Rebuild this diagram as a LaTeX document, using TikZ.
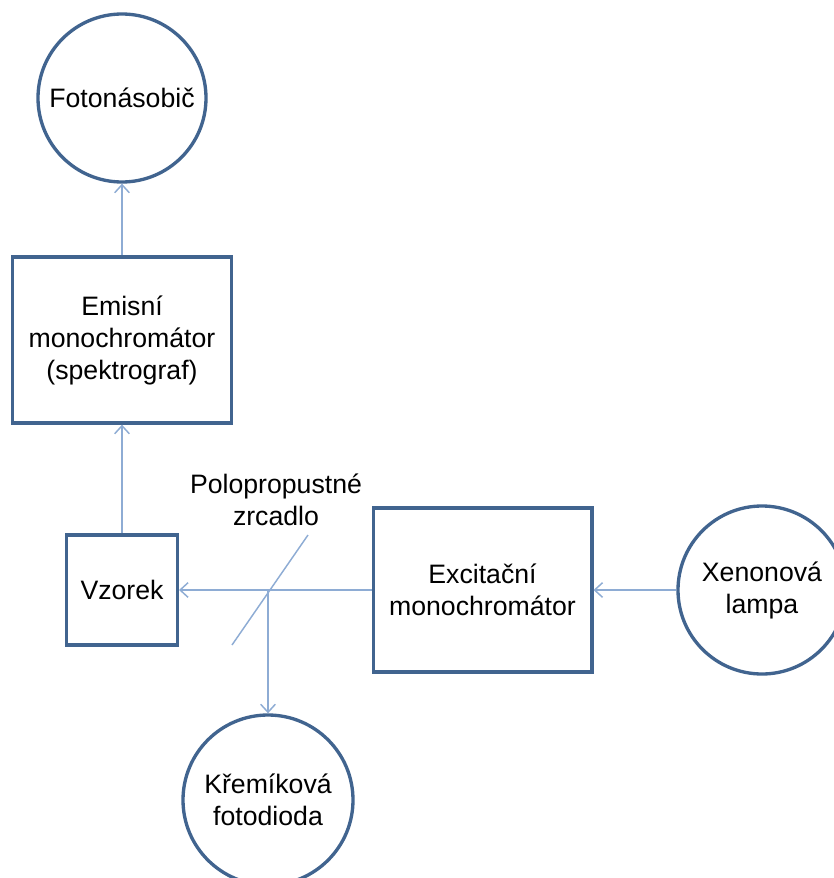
\documentclass[tikz,border=0pt]{standalone}
\usepackage{fontspec}
\setmainfont{Liberation Sans}
\usetikzlibrary{arrows.meta}
\definecolor{frame}{HTML}{41648F}
\definecolor{beam}{HTML}{8EACD4}
\tikzset{
  box/.style={draw=frame, line width=2.5pt, align=center, inner sep=0pt},
  lens/.style={circle, draw=frame, line width=2.5pt, align=center, inner sep=0pt, minimum size=126pt},
  ray/.style={draw=beam, line width=1.1pt, -{Straight Barb[length=6pt,width=11pt]}},
}

\begin{document}
\begin{tikzpicture}[x=0.75pt, y=-0.75pt, font=\fontsize{20}{24}\selectfont]
  \useasboundingbox (0,0) rectangle (834,878);
  \clip (0,0) rectangle (834,878);

  \node[lens] (fnas) at (122,98) {Fotonásobič};
  \node[box, minimum width=164pt, minimum height=124.5pt] (emi) at (122,340) {Emisní\\monochromátor\\(spektrograf)};
  \node[box, minimum width=83pt, minimum height=82.5pt] (vz) at (122,590) {Vzorek};
  \node[box, minimum width=164pt, minimum height=123pt] (exc) at (482.5,590) {Excitační\\monochromátor};
  \node[lens] (xen) at (762,590) {Xenonová\\lampa};
  \node[lens, minimum size=127.5pt] (krem) at (268,800) {Křemíková\\fotodioda};
  \node[align=center] (zrc) at (276,500) {Polopropustné\\zrcadlo};

  \coordinate (m1) at (232,645);
  \coordinate (m2) at (308,535);
  \coordinate (split) at (268,590);
  \draw[draw=beam, line width=1.1pt] (m1) -- (m2);

  \draw[ray] (xen) -- (exc);
  \draw[ray] (exc) -- (vz);
  \draw[ray] (split) -- (krem);
  \draw[ray] (vz) -- (emi);
  \draw[ray] (emi) -- (fnas);
\end{tikzpicture}
\end{document}
